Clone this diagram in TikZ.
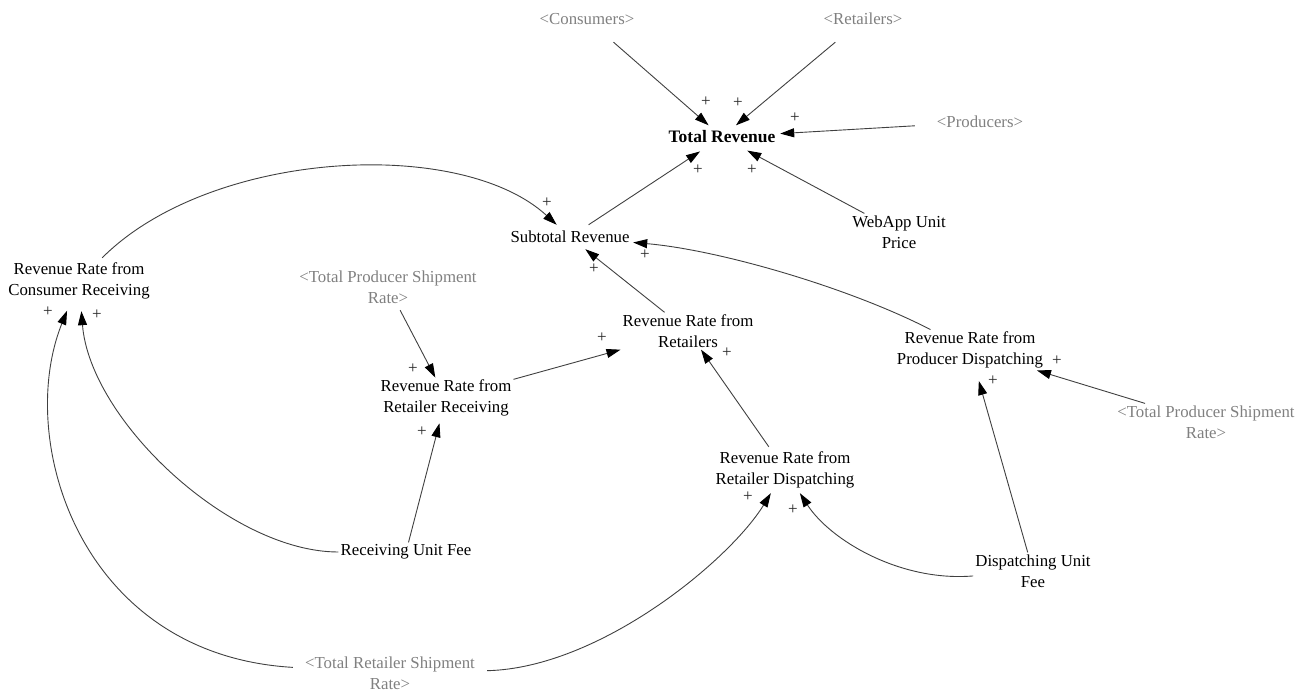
\documentclass[tikz,border=0pt]{standalone}
\usepackage{fontspec}
\setmainfont{Liberation Serif}
\usetikzlibrary{arrows.meta}
\begin{document}
\begin{tikzpicture}[x=1pt,y=-1pt,
  var/.style={font=\fontsize{16.8}{21}\selectfont, align=center, inner sep=2pt, text=black},
  shad/.style={var, text=black!50},
  lnk/.style={draw=black!75, line width=0.9pt, -{Triangle[length=14pt,width=9pt,color=black]}},
  pol/.style={font=\fontsize{17}{17}\selectfont, inner sep=0pt, text=black!85}]
\useasboundingbox (0,0) rectangle (1315,695);
% variables
\node[shad, minimum height=46pt] (cons) at (587,19) {<Consumers>};
\node[shad, minimum height=46pt] (reta) at (863,19) {<Retailers>};
\node[shad, minimum width=130pt] (prod) at (980,122) {<Producers>};
\node[var, minimum width=116pt, minimum height=23pt] (trev) at (722,137) {\fontsize{17.5}{21}\selectfont\bfseries Total Revenue};
\node[var] (web) at (899,232) {WebApp Unit\\Price};
\node[var, minimum width=126pt, minimum height=24pt] (sub) at (570,237) {Subtotal Revenue};
\node[var, minimum height=46pt] (rrcr) at (79,281) {Revenue Rate from\\Consumer Receiving};
\node[shad, minimum height=46pt] (tpsr1) at (388,287) {<Total Producer Shipment\\Rate>};
\node[var, minimum width=136pt] (rrr) at (688,331) {Revenue Rate from\\Retailers};
\node[var] (rrpd) at (970,350) {Revenue Rate from\\Producer Dispatching};
\node[var] (rrrr) at (446,398) {Revenue Rate from\\Retailer Receiving};
\node[shad] (tpsr2) at (1206,422) {<Total Producer Shipment\\Rate>};
\node[var, minimum height=46pt] (rrrd) at (785,470) {Revenue Rate from\\Retailer Dispatching};
\node[var] (ruf) at (406,552) {Receiving Unit Fee};
\node[var] (duf) at (1033,571) {Dispatching Unit\\Fee};
\node[shad, minimum width=194pt] (trsr) at (390,673) {<Total Retailer Shipment\\Rate>};
% links
\draw[lnk] (cons) -- (trev);
\draw[lnk] (reta) -- (trev);
\draw[lnk] (prod) -- (trev);
\draw[lnk, shorten >=5pt] (sub) -- (trev);
\draw[lnk, shorten >=4pt] (web) -- (trev);
\draw[lnk] (rrcr) .. controls (210,150) and (460,136) .. (sub);
\draw[lnk] (rrr) -- (sub);
\draw[lnk] (rrpd) .. controls (850,288) and (720,250) .. (sub);
\draw[lnk] (tpsr1) -- (rrrr);
\draw[lnk] (rrrr) -- (rrr);
\draw[lnk, shorten >=5pt] (ruf) -- (rrrr);
\draw[lnk, shorten >=7pt] (ruf) .. controls (230,552) and (90,420) .. (rrcr);
\draw[lnk, shorten >=7pt] (trsr) .. controls (80,655) and (15,440) .. (rrcr);
\draw[lnk] (trsr) .. controls (600,668) and (730,560) .. (rrrd);
\draw[lnk] (rrrd) -- (rrr);
\draw[lnk] (duf) .. controls (900,582) and (830,540) .. (rrrd);
\draw[lnk, shorten >=11pt] (duf) -- (rrpd);
\draw[lnk] (tpsr2) -- (rrpd);
% polarities
\node[pol] (p1) at (706,102) {+};
\node[pol] (p2) at (738,103) {+};
\node[pol] (p3) at (795,118) {+};
\node[pol] (p4) at (698,170) {+};
\node[pol] (p5) at (752,170) {+};
\node[pol] (p6) at (547,203) {+};
\node[pol] (p7) at (594,269) {+};
\node[pol] (p8) at (645,255) {+};
\node[pol] (p9) at (413,369) {+};
\node[pol] (p10) at (602,338) {+};
\node[pol] (p11) at (422,432) {+};
\node[pol] (p12) at (97,315) {+};
\node[pol] (p13) at (48,312) {+};
\node[pol] (p14) at (748,497) {+};
\node[pol] (p15) at (727,353) {+};
\node[pol] (p16) at (793,510) {+};
\node[pol] (p17) at (993,381) {+};
\node[pol] (p18) at (1057,361) {+};
\end{tikzpicture}
\end{document}
